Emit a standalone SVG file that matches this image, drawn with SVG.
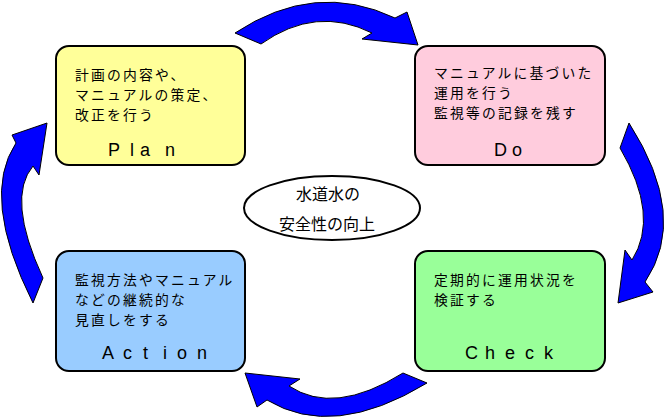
<svg xmlns="http://www.w3.org/2000/svg" width="664" height="418" viewBox="0 0 664 418">
<style>
.box{stroke:#000;stroke-width:2}
.t{font-family:"Noto Sans CJK JP","Noto Sans CJK SC",sans-serif;font-size:13.8px;letter-spacing:2.2px;fill:#000}
.lbl{font-family:"Liberation Sans",Arial,sans-serif;font-size:18px;fill:#000}
.arr{fill:#0000FF;stroke:#000;stroke-width:1;stroke-linejoin:miter}
</style>
<rect width="664" height="418" fill="#fff"/>
<g id="connectors">
<path class="arr" d="M235,33 Q315,-20 395,18 L407,12 L418,45 L362,39 L372,33 Q316,5 261,44 Z"/>
<path class="arr" d="M629,123 Q689,217 645,282 L653,292 L618,303 L625,250 L632,260 Q660,216 620,148 Z"/>
<path class="arr" d="M427,383 Q333,440 267,400 L257,407 L245,373 L300,379 L289,386 Q334,416 403,373 Z"/>
<path class="arr" d="M33,303 Q-20,197 16,143 L12,135 L47,123 L39,175 L33,166 Q6,198 43,278 Z"/>
</g>
<g id="plan">
<rect class="box" x="56" y="46" width="189" height="119" rx="13" fill="#FFFF99"/>
<text class="t"><tspan x="75" y="80">計画の内容や、</tspan><tspan x="75" y="100">マニュアルの策定、</tspan><tspan x="75" y="120">改正を行う</tspan></text>
<text class="lbl" x="108 130 140 165" y="156">Plan</text>
</g>
<g id="do">
<rect class="box" x="415" y="46" width="190" height="119" rx="13" fill="#FFCCDD"/>
<text class="t"><tspan x="434" y="78">マニュアルに基づいた</tspan><tspan x="434" y="98">運用を行う</tspan><tspan x="434" y="118">監視等の記録を残す</tspan></text>
<text class="lbl" x="494 512" y="156">Do</text>
</g>
<g id="action">
<rect class="box" x="56" y="251" width="189" height="120" rx="13" fill="#99CCFF"/>
<text class="t"><tspan x="75" y="285">監視方法やマニュアル</tspan><tspan x="75" y="305">などの継続的な</tspan><tspan x="75" y="325">見直しをする</tspan></text>
<text class="lbl" x="102 123 143 163 177 197" y="359">Action</text>
</g>
<g id="check">
<rect class="box" x="415" y="251" width="190" height="120" rx="13" fill="#99FF99"/>
<text class="t"><tspan x="434" y="285">定期的に運用状況を</tspan><tspan x="434" y="305">検証する</tspan></text>
<text class="lbl" x="465 485 505 525 544" y="359">Check</text>
</g>
<g id="goal">
<ellipse cx="332" cy="208" rx="88" ry="32" fill="#fff" stroke="#000" stroke-width="2"/>
<text class="t" text-anchor="middle" style="letter-spacing:0;font-size:16px"><tspan x="328" y="200">水道水の</tspan><tspan x="327" y="230">安全性の向上</tspan></text>
</g>
</svg>
